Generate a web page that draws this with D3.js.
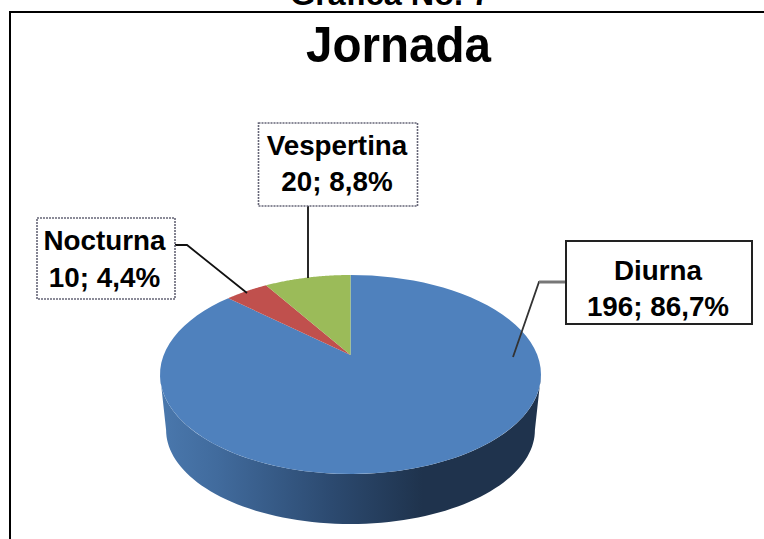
<!DOCTYPE html>
<html><head><meta charset="utf-8">
<script src="https://cdn.jsdelivr.net/npm/d3@7"></script>
<style>html,body{margin:0;padding:0;background:#fff}svg{display:block}text{font-family:"Liberation Sans",Arial,sans-serif;font-weight:bold;fill:#000}</style>
</head><body><svg id="c" width="764" height="539"></svg>
<script>
const categories = ["Diurna","Nocturna","Vespertina"];
const values = [196,10,20];
const percents = ["86,7%","4,4%","8,8%"];
const colors = ["#4f81bd","#c0504d","#9bbb59"];
const chartTitle = "Jornada";
const pageTitle = "Gráfica No. 7";

const svg = d3.select("#c");
const W=764,H=539;
// page frame
svg.append("text").attr("x",390).attr("y",5).attr("text-anchor","middle").attr("font-size",32)
  .attr("textLength",200).attr("lengthAdjust","spacingAndGlyphs").text(pageTitle);
svg.append("path").attr("d",`M10,${H}V12H${W}`).attr("fill","none").attr("stroke","#000").attr("stroke-width",2).attr("shape-rendering","crispEdges");
svg.append("text").attr("x",398.5).attr("y",62).attr("text-anchor","middle").attr("font-size",50)
  .attr("textLength",185).attr("lengthAdjust","spacingAndGlyphs").text(chartTitle);

// perspective disc: u,v in unit circle -> screen
const cx=350.5, c=0.196;
const kx=d3.scaleLinear().domain([-1,1]).range([cx-186.8,cx+186.8]);
const ky=d3.scaleLinear().domain([-1,1]).range([355+26.1,355-26.1]);
const proj=(t,r=1)=>{const u=Math.sin(t)*r,v=Math.cos(t)*r,w=1+c*v;
  return [cx+(kx(u)-cx)/w, (ky(v))/w];};
const line=d3.line();
const arcPts=(a,b)=>d3.range(0,81).map(i=>proj(a+(b-a)*i/80));

const defs=svg.append("defs");
const g=defs.append("linearGradient").attr("id","side").attr("gradientUnits","userSpaceOnUse")
  .attr("x1",160).attr("x2",540).attr("y1",0).attr("y2",0);
[[0,"#4a78ad"],[0.15,"#416b9d"],[0.45,"#2c4a70"],[0.69,"#1f334d"],[1,"#1f334d"]].forEach(s=>g.append("stop").attr("offset",s[0]).attr("stop-color",s[1]));

// side wall: lower rim follows the top rim, shifted and slightly narrowed
const rim=([x,y])=>[cx+(x-cx)*0.968, 430+(y-374.5)*0.945];
const t0=Math.PI-Math.acos(c);
const lowerTop=arcPts(t0,2*Math.PI-t0).map(rim);
const upper=arcPts(2*Math.PI-t0,t0);
svg.append("path").attr("d",line(lowerTop.concat(upper))+"Z").attr("fill","url(#side)");

// slices, clockwise from top
const pie=d3.pie().sort(null).value(d=>d);
const arcs=pie(values);
const apex=proj(0,0);
svg.selectAll("path.slice").data(arcs).enter().append("path").attr("class","slice")
  .attr("d",d=>line([apex,...arcPts(d.startAngle,d.endAngle)])+"Z")
  .attr("fill",(d,i)=>colors[i]);

// label boxes
const boxes=[
 {i:0,x:566,y:241,w:186,h:83,dash:null,stroke:"#222",sw:2,
  tx:658,ty1:280,ty2:316,leader:[[566,282],[539,282],[513,357]]},
 {i:1,x:37,y:218,w:138,h:81,dash:"2 1",stroke:"#667",sw:1.6,
  tx:104.5,ty1:250,ty2:287,leader:[[175,245],[187,245],[247,293]]},
 {i:2,x:258.5,y:123,w:159,h:83,dash:"2 1",stroke:"#667",sw:1.6,
  tx:337,ty1:155,ty2:191,leader:[[308,206],[308,278]]}
];
boxes.forEach(b=>{
  const path=svg.append("path").attr("d",line(b.leader)).attr("fill","none").attr("stroke",b.i==0?"#333":"#111").attr("stroke-width",1.8);
  if(b.i==0) svg.append("path").attr("d",line(b.leader.slice(0,2))).attr("stroke","#777").attr("stroke-width",3);
  svg.append("rect").attr("x",b.x).attr("y",b.y).attr("width",b.w).attr("height",b.h)
    .attr("fill","#fff").attr("stroke",b.stroke).attr("stroke-width",b.sw).attr("stroke-dasharray",b.dash);
  svg.append("text").attr("x",b.tx).attr("y",b.ty1).attr("text-anchor","middle").attr("font-size",27.8).text(categories[b.i]);
  svg.append("text").attr("x",b.tx).attr("y",b.ty2).attr("text-anchor","middle").attr("font-size",27.8).text(values[b.i]+"; "+percents[b.i]);
});
</script></body></html>
